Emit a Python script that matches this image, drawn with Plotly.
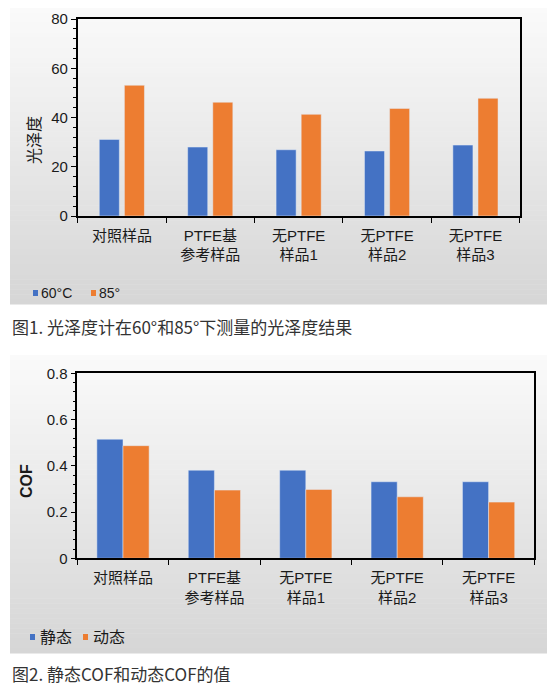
import plotly.graph_objects as go

W, H = 554, 691

# categories shared by both charts
categories = ["对照样品", "PTFE基<br>参考样品", "无PTFE<br>样品1", "无PTFE<br>样品2", "无PTFE<br>样品3"]

# Fig 1 - gloss
gloss_60 = [31.1, 28.0, 26.9, 26.4, 28.8]
gloss_85 = [53.1, 46.2, 41.3, 43.7, 47.8]

# Fig 2 - coefficient of friction
cof_static = [0.515, 0.381, 0.381, 0.331, 0.331]
cof_dynamic = [0.487, 0.295, 0.298, 0.266, 0.243]

BLUE = "#4472C4"
ORANGE = "#ED7D31"
FONT = "Liberation Sans, Noto Sans CJK SC, sans-serif"
CJK = "Noto Sans CJK SC, sans-serif"


# pixel -> paper helpers
def px(x):
    return x / W


def py(y):
    return 1 - y / H


fig = go.Figure()

fig.add_trace(go.Bar(x=categories, y=gloss_60, name="60°C", marker_color=BLUE,
                     width=0.227, offset=-0.256, xaxis="x", yaxis="y"))
fig.add_trace(go.Bar(x=categories, y=gloss_85, name="85°", marker_color=ORANGE,
                     width=0.227, offset=0.028, xaxis="x", yaxis="y"))
fig.add_trace(go.Bar(x=categories, y=cof_static, name="静态", marker_color=BLUE,
                     width=0.286, offset=-0.286, xaxis="x2", yaxis="y2"))
fig.add_trace(go.Bar(x=categories, y=cof_dynamic, name="动态", marker_color=ORANGE,
                     width=0.286, offset=0.0, xaxis="x2", yaxis="y2"))

# gradient gray panels behind each chart (thin horizontal bands)
shapes = []
n_bands = 60
top_c, bot_c = 250, 214
for y0, y1 in [(8, 304), (355, 653)]:
    step = (y1 - y0) / n_bands
    for i in range(n_bands):
        t = i / (n_bands - 1)
        g = int(round(top_c + (bot_c - top_c) * t))
        shapes.append(dict(type="rect", xref="paper", yref="paper", layer="below",
                           x0=px(10), x1=px(547),
                           y0=py(y0 + step * (i + 1) + 0.5), y1=py(y0 + step * i),
                           line=dict(width=0), fillcolor=f"rgb({g},{g},{g})"))

# legend markers: small squares
for color, x, y in [(BLUE, 33, 293), (ORANGE, 91, 293), (BLUE, 30, 637), (ORANGE, 83, 637)]:
    shapes.append(dict(type="rect", xref="paper", yref="paper",
                       x0=px(x), x1=px(x + 5), y0=py(y + 3), y1=py(y - 3),
                       line=dict(width=0), fillcolor=color))

xstyle = dict(type="category", showline=True, mirror=True, linecolor="black", linewidth=1.5,
              ticks="outside", tickson="boundaries", ticklen=5, tickcolor="black",
              tickfont=dict(size=15, color="#1a1a1a", family=FONT), ticklabelstandoff=5,
              showgrid=False, zeroline=False, fixedrange=True)
ystyle = dict(showline=True, mirror=True, linecolor="black", linewidth=1.5,
              ticks="outside", ticklen=5, tickcolor="black",
              tickfont=dict(size=15, color="#1a1a1a", family=FONT),
              showgrid=False, zeroline=False)

fig.update_layout(
    width=W, height=H,
    margin=dict(l=0, r=0, t=0, b=0, autoexpand=False),
    paper_bgcolor="white",
    plot_bgcolor="rgba(0,0,0,0)",
    barmode="overlay",
    showlegend=False,
    shapes=shapes,
    xaxis=dict(domain=[px(77.7), px(519.7)], anchor="y", **xstyle),
    yaxis=dict(domain=[py(216), py(19)], anchor="x", range=[0, 80], dtick=20,
               minor=dict(dtick=4, ticks="outside", ticklen=3, tickcolor="black"), **ystyle),
    xaxis2=dict(domain=[px(77.3), px(534.3)], anchor="y2", **xstyle),
    yaxis2=dict(domain=[py(558.3), py(373.3)], anchor="x2", range=[0, 0.8], dtick=0.2,
                minor=dict(dtick=0.04, ticks="outside", ticklen=3, tickcolor="black"), **ystyle),
)

ann = []
# axis titles
ann.append(dict(text="光泽度", x=px(33), y=py(140), xref="paper", yref="paper", textangle=-90,
                xanchor="center", yanchor="middle",
                showarrow=False, font=dict(size=16, color="#1a1a1a", family=CJK)))
ann.append(dict(text="<b>COF</b>", x=px(26), y=py(481), xref="paper", yref="paper", textangle=-90,
                xanchor="center", yanchor="middle",
                showarrow=False, font=dict(size=16, color="#1a1a1a", family=FONT)))

# legend labels
for label, x, y, size in [("60°C", 39, 293, 14), ("85°", 97, 293, 14),
                          ("静态", 38, 637, 16), ("动态", 91, 637, 16)]:
    ann.append(dict(text=label, x=px(x), y=py(y), xref="paper", yref="paper",
                    xanchor="left", yanchor="middle", showarrow=False,
                    font=dict(size=size, color="#1a1a1a", family=FONT)))

# captions
ann.append(dict(text="图1. 光泽度计在60°和85°下测量的光泽度结果", x=px(10), y=py(326),
                xref="paper", yref="paper", xanchor="left", yanchor="middle", showarrow=False,
                font=dict(size=17, color="#333", family=CJK)))
ann.append(dict(text="图2. 静态COF和动态COF的值", x=px(10), y=py(673),
                xref="paper", yref="paper", xanchor="left", yanchor="middle", showarrow=False,
                font=dict(size=17, color="#333", family=CJK)))

fig.update_layout(annotations=ann)

fig.write_html("out.html", config={"displayModeBar": False},
               post_script="document.body.style.margin='0';document.body.style.overflow='hidden';")
